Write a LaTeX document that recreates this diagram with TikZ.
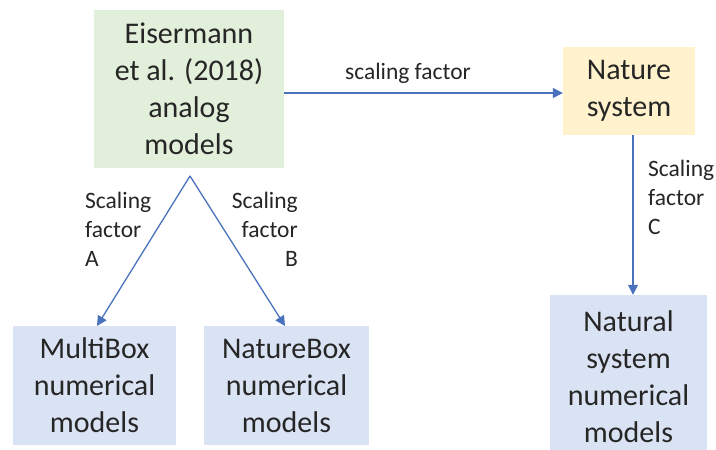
\documentclass[tikz,border=0pt]{standalone}
\usepackage{fontspec}
\setmainfont{Carlito}
\usetikzlibrary{arrows.meta}
\definecolor{boxgreen}{HTML}{E2EFDA}
\definecolor{boxgold}{HTML}{FFF2CC}
\definecolor{boxblue}{HTML}{DAE3F3}
\definecolor{arrowblue}{HTML}{4A72BD}
\definecolor{txt}{HTML}{262626}
\tikzset{
  x=1pt,y=1pt,
  box/.style={inner sep=0pt, align=center, text=txt,
    font=\fontsize{30}{37}\selectfont},
  lbl/.style={inner sep=0pt, text=txt, font=\fontsize{23.5}{29}\selectfont},
  conn/.style={draw=arrowblue, line width=1.3pt,
    -{Triangle[length=10pt,width=10pt]}}
}
\begin{document}
\begin{tikzpicture}
\useasboundingbox (0,0) rectangle (716,450);
\clip (0,0) rectangle (716,450);
\fill[white] (0,0) rectangle (716,450);
\node[box, fill=boxgreen, minimum width=190, minimum height=158] (green) at (189,361)
  {Eisermann\\et al. (2018)\\analog\\models};
\node[box, fill=boxgold, minimum width=132, minimum height=88] (nature) at (629,359)
  {Nature\\system};
\node[box, fill=boxblue, minimum width=163, minimum height=119] (multi) at (94.5,64.5)
  {MultiBox\\numerical\\models};
\node[box, fill=boxblue, minimum width=165, minimum height=119] (nbox) at (286.5,64.5)
  {NatureBox\\numerical\\models};
\node[box, fill=boxblue, minimum width=157, minimum height=164] (natural) at (628.5,73)
  {Natural\\system\\numerical\\models};
\coordinate (apex) at (190,274);
\draw[conn] ([yshift=-4pt]green.east) -- ([yshift=-2pt]nature.west);
\draw[conn] (apex) -- (97,124) coordinate (ta);
\draw[conn] (apex) -- (285,124) coordinate (tb);
\draw[conn] (nature.south -| 633,0) -- (natural.north -| 633,0);
\node[lbl, anchor=south] (sf) at (408,366) {scaling factor};
\node[lbl, anchor=north west, align=left] (la) at (85,258) {Scaling\\factor\\A};
\node[lbl, anchor=north east, align=right] (lb) at (298,258) {Scaling\\factor\\B};
\node[lbl, anchor=north west, align=left] (lc) at (648,290) {Scaling\\factor\\C};
\end{tikzpicture}
\end{document}
